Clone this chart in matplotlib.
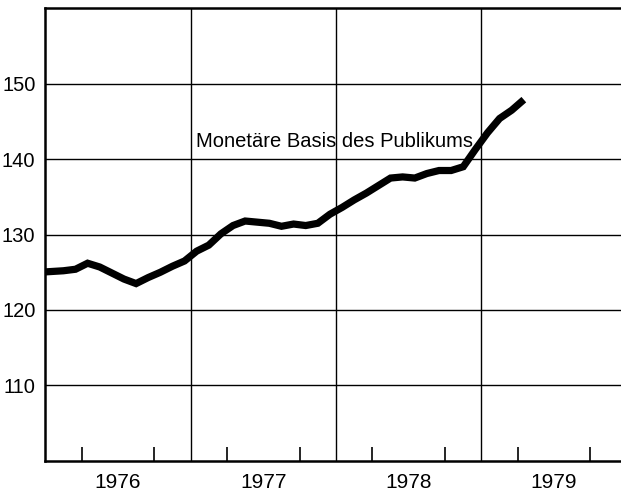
import matplotlib
matplotlib.use("Agg")
import matplotlib.pyplot as plt
import numpy as np

# Monatswerte (Monatsmitte), Dez 1975 bis Apr 1979
monate = np.arange(-1, 40)
werte = [125.0,
         125.1, 125.2, 125.4, 126.2, 125.7, 124.9, 124.1, 123.5, 124.3, 125.0, 125.8, 126.5,
         127.8, 128.6, 130.1, 131.2, 131.8, 131.65, 131.5, 131.1, 131.4, 131.2, 131.5, 132.7,
         133.6, 134.6, 135.5, 136.5, 137.5, 137.65, 137.5, 138.1, 138.5, 138.5, 139.0, 141.3,
         143.5, 145.4, 146.5, 147.9]
jahre = [1976, 1977, 1978, 1979]
y_ticks = [110, 120, 130, 140, 150]
label = "Monetäre Basis des Publikums"

plt.rcParams['font.family'] = ['Liberation Sans', 'DejaVu Sans']

fig = plt.figure(figsize=(6.21, 4.97), dpi=100)
ax = fig.add_axes([0.0728, 0.073, 0.9272, 0.910])

t = 1976 + (monate + 0.5) / 12
ax.plot(t, werte, color='black', linewidth=5.2, solid_capstyle='butt',
        solid_joinstyle='miter')

ax.set_xlim(1976, 1979.96)
ax.set_ylim(100, 160)

# Gitter
for y in y_ticks:
    ax.axhline(y, color='black', linewidth=1.0, zorder=1)
for j in jahre[1:]:
    ax.axvline(j, color='black', linewidth=1.0, zorder=1)

ax.set_yticks(y_ticks)
ax.set_yticklabels([str(y) for y in y_ticks], fontsize=14.5)
ax.tick_params(axis='y', length=0, pad=7)

ax.set_xticks([j + 0.5 for j in jahre])
ax.set_xticklabels([str(j) for j in jahre], fontsize=15)
ax.tick_params(axis='x', which='major', length=0, pad=9)
quartale = [j + q / 4 for j in jahre for q in (1, 2, 3)]
ax.set_xticks(quartale, minor=True)
ax.tick_params(axis='x', which='minor', direction='in', length=10, width=1.2)

ax.spines['right'].set_visible(False)
for s in ('left', 'top', 'bottom'):
    ax.spines[s].set_linewidth(1.8)

ax.text(1977.04, 141.6, label, fontsize=14.5, va='baseline', ha='left')

fig.savefig("out.png", dpi=100)
